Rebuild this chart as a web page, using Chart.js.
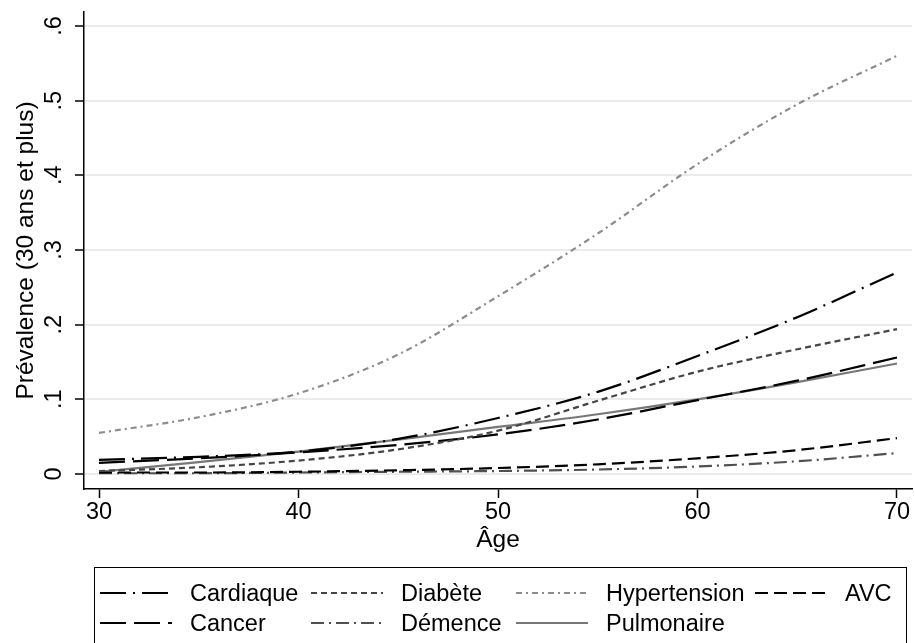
<!DOCTYPE html>
<html>
<head>
<meta charset="utf-8">
<script src="https://cdn.jsdelivr.net/npm/chart.js@4/dist/chart.umd.min.js"></script>
<style>
  html, body { margin: 0; padding: 0; background: #fff; overflow: hidden; }
  #wrap { position: relative; width: 915px; height: 643px; }
  #legend {
    position: absolute; left: 94px; top: 567px; width: 813px; height: 80px;
    border: 1.5px solid #000; box-sizing: border-box;
    font-family: "Liberation Sans", Arial, sans-serif; font-size: 23.5px; color: #000;
  }
  .item { position: absolute; display: flex; align-items: center; height: 30px; }
  .item svg { display: block; }
  .item span { margin-left: 18px; white-space: nowrap; }
</style>
</head>
<body>
<div id="wrap">
  <canvas id="c"></canvas>
  <div id="legend"></div>
</div>
<script>
// ---- data ----
const ages = [30, 35, 40, 45, 50, 55, 60, 65, 70];
const seriesNames = ["Cardiaque", "Diabète", "Hypertension", "AVC", "Cancer", "Démence", "Pulmonaire"];
const cardiaque    = [0.019, 0.023, 0.030, 0.047, 0.075, 0.110, 0.158, 0.210, 0.270];
const diabete      = [0.004, 0.009, 0.018, 0.033, 0.058, 0.098, 0.137, 0.167, 0.194];
const hypertension = [0.055, 0.076, 0.108, 0.160, 0.238, 0.322, 0.415, 0.495, 0.560];
const avc          = [0.002, 0.002, 0.003, 0.005, 0.008, 0.013, 0.021, 0.032, 0.048];
const cancer       = [0.015, 0.021, 0.029, 0.039, 0.053, 0.073, 0.099, 0.125, 0.156];
const demence      = [0.001, 0.001, 0.002, 0.003, 0.004, 0.006, 0.010, 0.017, 0.028];
const pulmonaire   = [0.003, 0.016, 0.030, 0.046, 0.063, 0.080, 0.100, 0.123, 0.148];
const xTicks = [30, 40, 50, 60, 70];
const yTicks = [0, 0.1, 0.2, 0.3, 0.4, 0.5, 0.6];
const xTitle = "Âge";
const yTitle = "Prévalence (30 ans et plus)";

// ---- styles ----
const styles = [
  { color: "#000000", dash: [26, 7, 2, 7], width: 2.2 },
  { color: "#454545", dash: [6, 4], width: 2.2 },
  { color: "#8c8c8c", dash: [6, 4, 2, 4], width: 2.2 },
  { color: "#000000", dash: [13, 6], width: 2.2 },
  { color: "#000000", dash: [26, 8], width: 2.2 },
  { color: "#505050", dash: [13, 5, 2, 5], width: 2.2 },
  { color: "#777777", dash: [], width: 2.2 }
];
const values = [cardiaque, diabete, hypertension, avc, cancer, demence, pulmonaire];

const datasets = seriesNames.map((name, i) => ({
  label: name,
  data: ages.map((a, j) => ({ x: a, y: values[i][j] })),
  borderColor: styles[i].color,
  borderDash: styles[i].dash,
  borderWidth: styles[i].width,
  borderCapStyle: "butt",
  pointRadius: 0,
  fill: false,
  cubicInterpolationMode: "monotone"
}));

const TICKFONT = { family: "'Liberation Sans', Arial, sans-serif", size: 23.5, lineHeight: 1 };
const TITLEFONT = { family: "'Liberation Sans', Arial, sans-serif", size: 24.5, lineHeight: 1 };

new Chart(document.getElementById("c"), {
  type: "line",
  data: { datasets },
  options: {
    responsive: true,
    maintainAspectRatio: false,
    animation: false,
    layout: { padding: { top: 12, right: 3, bottom: 91, left: 0 } },
    plugins: { legend: { display: false }, tooltip: { enabled: false } },
    scales: {
      x: {
        type: "linear",
        min: 29.248, max: 70.752,
        afterBuildTicks: s => { s.ticks = xTicks.map(v => ({ value: v })); },
        afterFit: s => { s.height = 63; s.paddingLeft = 0; s.paddingRight = 0; },
        grid: { drawOnChartArea: false, drawTicks: true, tickLength: 9, tickColor: "#000", tickWidth: 1.5 },
        border: { display: true, color: "#000", width: 1.5 },
        ticks: { color: "#000", font: TICKFONT, padding: 3, maxRotation: 0, autoSkip: false, callback: v => String(v) },
        title: { display: true, text: xTitle, color: "#000", font: TITLEFONT, padding: { top: 0, bottom: 0 } }
      },
      y: {
        type: "linear",
        min: -0.0201, max: 0.6187,
        afterBuildTicks: s => { s.ticks = yTicks.map(v => ({ value: v })); },
        afterFit: s => { s.width = 84; s.paddingTop = 0; s.paddingBottom = 0; },
        grid: { color: "#ebebeb", lineWidth: 2, drawTicks: true, tickLength: 9, tickColor: "#000", tickWidth: 1.5 },
        border: { display: true, color: "#000", width: 1.5 },
        ticks: {
          color: "#000", font: TICKFONT, padding: 11, minRotation: 90, maxRotation: 90,
          crossAlign: "center", autoSkip: false,
          callback: v => (v === 0 ? "0" : v.toFixed(1).replace(/^0/, ""))
        },
        title: { display: true, text: yTitle, color: "#000", font: TITLEFONT, padding: { top: 14, bottom: 0 } }
      }
    }
  }
});

// ---- legend (HTML) ----
const legend = document.getElementById("legend");
const colLeft = [5, 216, 421, 660];
const rowTop = [10, 40];
seriesNames.forEach((name, i) => {
  const col = i % 4, row = Math.floor(i / 4);
  const div = document.createElement("div");
  div.className = "item";
  div.style.left = colLeft[col] + "px";
  div.style.top = rowTop[row] + "px";
  const st = styles[i];
  div.innerHTML =
    '<svg width="72" height="6"><line x1="0" y1="3" x2="72" y2="3" stroke="' + st.color +
    '" stroke-width="' + st.width + '" stroke-dasharray="' + (st.dash.length ? st.dash.join(" ") : "none") +
    '"/></svg><span>' + name + '</span>';
  legend.appendChild(div);
});
</script>
</body>
</html>
